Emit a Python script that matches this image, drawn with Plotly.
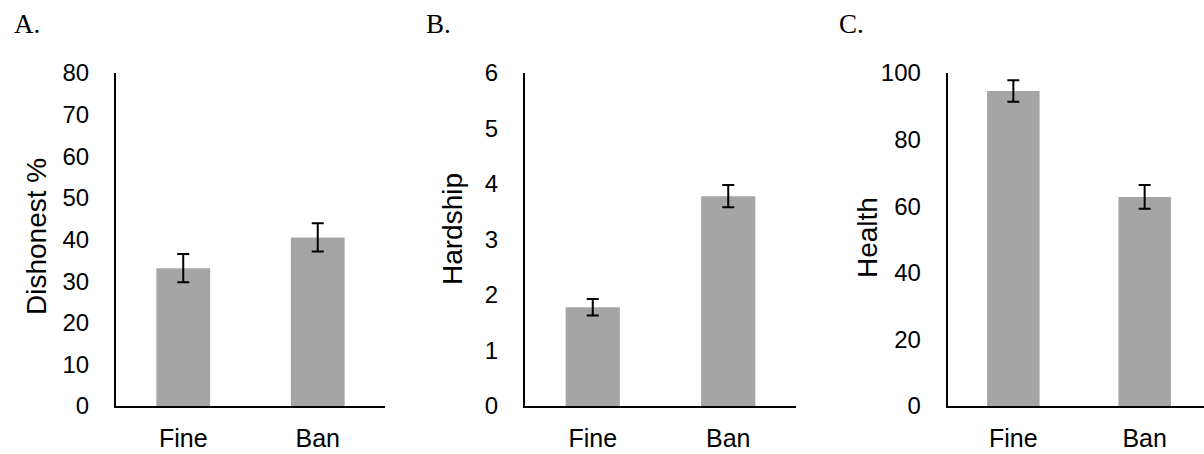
import plotly.graph_objects as go

W, H = 1204, 454

categories = ["Fine", "Ban"]

dishonest = [33.1, 40.5]
dishonest_err = [3.4, 3.4]

hardship = [1.78, 3.78]
hardship_err = [0.15, 0.2]

health = [94.6, 62.8]
health_err = [3.2, 3.6]

panel_letters = ["A.", "B.", "C."]
y_titles = ["Dishonest %", "Hardship", "Health"]
y_ranges = [[0, 80], [0, 6], [0, 100]]
y_dticks = [10, 1, 20]

series = [(dishonest, dishonest_err), (hardship, hardship_err), (health, health_err)]

# pixel layout (left axis x, right end x)
x_px = [(116, 385), (525, 796), (947.7, 1204)]
cat_px = [134.5, 135.5, 131.3]
y_top, y_bot = 73, 406
title_px = [(37, 237), (452, 229), (868, 237)]
letter_px = [(12, 24), (424, 24), (837, 24)]

BAR = "#A5A5A5"
TICKFONT = dict(family="Liberation Sans, Arial, sans-serif", size=24, color="black")

fig = go.Figure()
axes = ["", "2", "3"]
for i, (vals, errs) in enumerate(series):
    ax = axes[i]
    fig.add_trace(go.Bar(
        x=categories, y=vals, width=0.4,
        marker=dict(color=BAR, line=dict(width=0)),
        error_y=dict(type="data", array=errs, visible=True, color="black",
                     thickness=2, width=6),
        xaxis="x" + ax, yaxis="y" + ax, showlegend=False,
    ))
    x0, x1 = x_px[i]
    rng_hi = -0.5 + (x1 - x0) / cat_px[i]
    fig.layout["xaxis" + ax] = dict(
        domain=[x0 / W, x1 / W], anchor="y" + ax, type="category",
        range=[-0.5, rng_hi], showline=True, linecolor="black", linewidth=2,
        ticks="", showgrid=False, zeroline=False, automargin=False,
        tickfont=dict(family="Liberation Sans, Arial, sans-serif", size=25, color="black"),
        ticklabelstandoff=9,
    )
    fig.layout["yaxis" + ax] = dict(
        domain=[1 - y_bot / H, 1 - y_top / H], anchor="x" + ax,
        range=y_ranges[i], dtick=y_dticks[i], showline=True, linecolor="black",
        linewidth=2, ticks="", showgrid=False, zeroline=False, automargin=False,
        tickfont=TICKFONT, ticklabelstandoff=20,
    )
    tx, ty = title_px[i]
    fig.add_annotation(text=y_titles[i], x=tx / W, y=1 - ty / H, xref="paper", yref="paper",
                       showarrow=False, textangle=-90, xanchor="center", yanchor="middle",
                       font=dict(family="Liberation Sans, Arial, sans-serif", size=28, color="black"))
    lx, ly = letter_px[i]
    fig.add_annotation(text=panel_letters[i], x=lx / W, y=1 - ly / H, xref="paper", yref="paper",
                       showarrow=False, xanchor="left", yanchor="middle",
                       font=dict(family="Liberation Serif, Times New Roman, serif", size=27, color="black"))

fig.update_layout(
    width=W, height=H, margin=dict(l=0, r=0, t=0, b=0, pad=0, autoexpand=False),
    paper_bgcolor="white", plot_bgcolor="white",
)
fig.write_html("out.html")
